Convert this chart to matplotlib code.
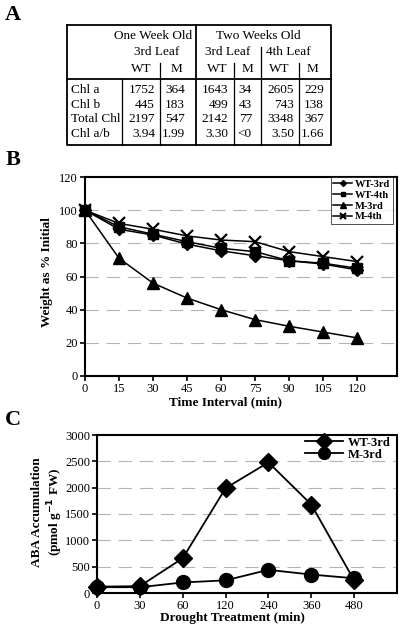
import matplotlib
matplotlib.use("Agg")
import matplotlib.pyplot as plt
import numpy as np

plt.rcParams["font.family"] = ["Liberation Serif", "DejaVu Serif"]

# ---- panel A: chlorophyll table ----
AGE_GROUPS = ["One Week Old", "Two Weeks Old"]
LEAF_LABELS = ["3rd Leaf", "3rd Leaf", "4th Leaf"]
GENOTYPES = ["WT", "M", "WT", "M", "WT", "M"]
ROW_LABELS = ["Chl a", "Chl b", "Total Chl", "Chl a/b"]
CHL_A = ["1752", "364", "1643", "34", "2605", "229"]
CHL_B = ["445", "183", "499", "43", "743", "138"]
CHL_TOTAL = ["2197", "547", "2142", "77", "3348", "367"]
CHL_RATIO = ["3.94", "1.99", "3.30", "<0", "3.50", "1.66"]

# ---- panel B: weight loss ----
TIME_MIN = [0, 15, 30, 45, 60, 75, 90, 105, 120]
WT_3RD = [100, 88.5, 85, 79.5, 75.5, 72.5, 69.5, 67.5, 64]
WT_4TH = [100, 90, 85.5, 81, 77, 75, 69.5, 68, 65]
M_3RD = [100, 71, 56, 47, 40, 34, 30, 26.5, 23]
M_4TH = [100, 92, 88.5, 84.5, 82, 81, 75, 72, 69]

# ---- panel C: ABA accumulation ----
DROUGHT_LABELS = ["0", "30", "60", "120", "240", "360", "480"]
ABA_WT = [120, 130, 660, 1990, 2480, 1680, 240]
ABA_M = [110, 110, 200, 240, 440, 350, 280]

W, H = 402, 630
fig = plt.figure(figsize=(W / 100, H / 100), dpi=100)


def fx(px):
    return px / W


def fy(py):
    return 1 - py / H


# overlay axes in pixel coordinates for table and panel letters
over = fig.add_axes([0, 0, 1, 1], zorder=5)
over.set_xlim(0, W)
over.set_ylim(H, 0)
over.axis("off")

bold = dict(fontweight="bold")
for letter, (lx, ly) in zip("ABC", [(13, 15), (13, 160), (13, 420)]):
    over.text(lx, ly, letter, fontsize=16, ha="center", va="center", **bold)

# table geometry
left, right, top, bottom = 67, 331, 25, 145
head_line = 79
lw_tab = 1.3
over.plot([left, right, right, left, left], [top, top, bottom, bottom, top], color="black", lw=lw_tab)
over.plot([left, right], [head_line, head_line], color="black", lw=lw_tab)
over.plot([122, 122], [head_line, bottom], color="black", lw=0.9)
over.plot([196, 196], [top, bottom], color="black", lw=lw_tab)
over.plot([261, 261], [47, bottom], color="black", lw=0.9)
for vx in [160, 234, 299]:
    over.plot([vx, vx], [63, bottom], color="black", lw=0.9)

tfs = 9.5
for label, cx in zip(AGE_GROUPS, [153, 258]):
    over.text(cx, 36, label, fontsize=tfs, ha="center", va="center")
for label, cx in zip(LEAF_LABELS, [157, 228, 288]):
    over.text(cx, 52, label, fontsize=tfs, ha="center", va="center")
for label, cx in zip(GENOTYPES, [141, 176, 217, 247, 279, 312]):
    over.text(cx, 69, label, fontsize=tfs, ha="center", va="center")

rows = [CHL_A, CHL_B, CHL_TOTAL, CHL_RATIO]
num_right = [155, 185, 228, 252, 294, 324]
for label, vals, ry in zip(ROW_LABELS, rows, [90, 104.5, 119, 134]):
    over.text(71, ry, label, fontsize=tfs, ha="left", va="center")
    for v, rx in zip(vals, num_right):
        over.text(rx, ry, v, fontsize=tfs, ha="right", va="center")

grid_kw = dict(color="#b5b5b5", lw=0.8, linestyle=(0, (12, 7)))

# ---- panel B ----
axb = fig.add_axes([fx(85), fy(376), fx(397) - fx(85), fy(177) - fy(376)])
line_kw = dict(color="black", lw=1.1, clip_on=False, zorder=3)
axb.plot(TIME_MIN, WT_3RD, marker="D", ms=6, label="WT-3rd", **line_kw)
axb.plot(TIME_MIN, WT_4TH, marker="s", ms=7, label="WT-4th", **line_kw)
axb.plot(TIME_MIN, M_3RD, marker="^", ms=8, label="M-3rd", **line_kw)
axb.plot(TIME_MIN, M_4TH, marker="x", ms=8, mew=1.6, label="M-4th", **line_kw)
axb.set_xlim(0, 137.6)
axb.set_ylim(0, 120)
axb.set_xticks(TIME_MIN)
axb.set_yticks(np.arange(0, 121, 20))
for yv in [20, 40, 60, 80, 100]:
    axb.axhline(yv, zorder=0, **grid_kw)
leg = axb.legend(loc="upper right", bbox_to_anchor=(fx(393), fy(177)), bbox_transform=fig.transFigure,
                 borderaxespad=0, frameon=True, fancybox=False, handlelength=1.8,
                 handletextpad=0.3, labelspacing=0.15, borderpad=0.25, markerscale=0.5,
                 prop={"weight": "bold", "size": 7.5})
leg.get_frame().set_edgecolor("black")
leg.get_frame().set_linewidth(0.6)
leg.set_zorder(6)
fig.text(fx(47), fy(272), "Weight as % Initial", rotation=90, ha="center", va="center", fontsize=9.5, **bold)
fig.text(fx(226), fy(402), "Time Interval (min)", ha="center", va="center", fontsize=9.5, **bold)

# ---- panel C ----
axc = fig.add_axes([fx(97), fy(593), fx(397) - fx(97), fy(435) - fy(593)])
xpos = np.arange(len(DROUGHT_LABELS))
line_kw = dict(color="black", lw=1.3, clip_on=False, zorder=3)
axc.plot(xpos, ABA_WT, marker="D", ms=9, label="WT-3rd", **line_kw)
axc.plot(xpos, ABA_M, marker="o", ms=10, label="M-3rd", **line_kw)
axc.set_xlim(0, 7.0)
axc.set_ylim(0, 3000)
axc.set_xticks(xpos)
axc.set_xticklabels(DROUGHT_LABELS)
axc.set_yticks(np.arange(0, 3001, 500))
for yv in [500, 1000, 1500, 2000, 2500]:
    axc.axhline(yv, zorder=0, **grid_kw)
axc.legend(loc="upper right", bbox_to_anchor=(fx(393), fy(434)), bbox_transform=fig.transFigure,
           borderaxespad=0, frameon=False, handlelength=3.0, handletextpad=0.4, labelspacing=0.0,
           borderpad=0.2, markerscale=0.85, prop={"weight": "bold", "size": 9})
fig.text(fx(37), fy(512), "ABA Accumulation", rotation=90, ha="center", va="center", fontsize=9.5, **bold)
fig.text(fx(55), fy(512), "(pmol g$^{\\mathbf{-1}}$ FW)", rotation=90, ha="center", va="center", fontsize=9.5, **bold)
fig.text(fx(232), fy(618), "Drought Treatment (min)", ha="center", va="center", fontsize=9.5, **bold)

for ax in (axb, axc):
    for sp in ax.spines.values():
        sp.set_linewidth(1.5)
    ax.tick_params(direction="out", length=3.5, width=1.2, labelsize=9, pad=1.5)

fig.savefig("out.png", dpi=100)
